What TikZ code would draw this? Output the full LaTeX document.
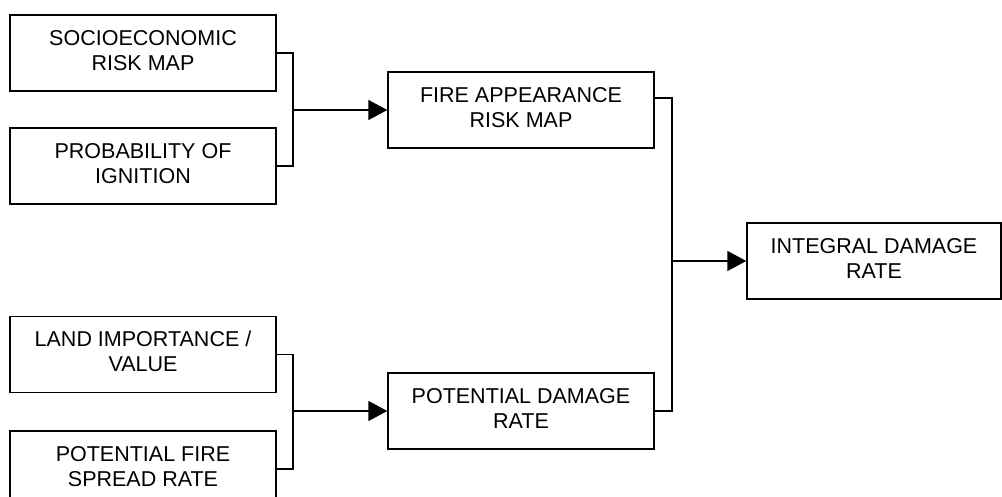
\documentclass[tikz,border=0pt]{standalone}
\usepackage{fontspec}
\setmainfont{Liberation Sans}
\usetikzlibrary{arrows.meta}
\tikzset{
  box/.style={draw, line width=1.4pt, rectangle, minimum width=266pt, minimum height=76pt,
    inner sep=0pt, align=center, text depth=6pt, font=\fontsize{21.5}{25}\selectfont},
  link/.style={line width=1.4pt},
  arrowlink/.style={line width=1.4pt, -{Triangle[length=19pt,width=20pt]}}
}
\begin{document}
\begin{tikzpicture}[x=1pt,y=-1pt]
\useasboundingbox (0,0) rectangle (1002,497);
\clip (0,0) rectangle (1002,497);
\node[box] (s1) at (143,53) {SOCIOECONOMIC\\RISK MAP};
\node[box] (p1) at (143,166) {PROBABILITY OF\\IGNITION};
\node[box] (l1) at (143,354.5) {LAND IMPORTANCE /\\VALUE};
\node[box] (f1) at (143,469) {POTENTIAL FIRE\\SPREAD RATE};
\node[box] (fa) at (521,110) {FIRE APPEARANCE\\RISK MAP};
\node[box] (pd) at (521,411) {POTENTIAL DAMAGE\\RATE};
\node[box, minimum width=254pt] (id) at (874,261) {INTEGRAL DAMAGE\\RATE};
\coordinate (j1) at (293,110);
\coordinate (j2) at (293,411);
\coordinate (j3) at (672,261);
\draw[link] (s1.east) -| (j1) |- (p1.east);
\draw[arrowlink] (j1) -- (fa.west);
\draw[link] (l1.east) -| (j2) |- (f1.east);
\draw[arrowlink] (j2) -- (pd.west);
\draw[link] ([yshift=12pt]fa.east) -| (j3) |- (pd.east);
\draw[arrowlink] (j3) -- (id.west);
\end{tikzpicture}
\end{document}
